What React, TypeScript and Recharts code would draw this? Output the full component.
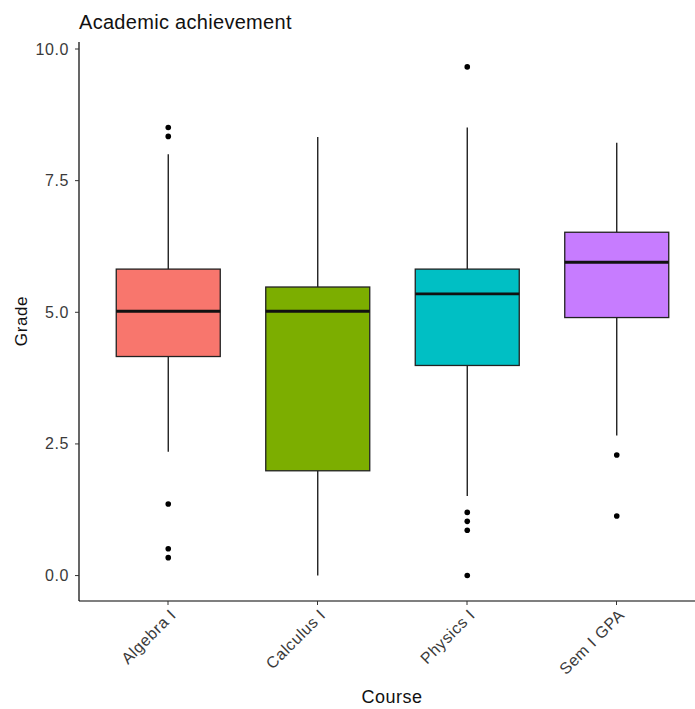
import { ComposedChart, Bar, XAxis, YAxis } from 'recharts';

// box plot summary per course
const courses = ['Algebra I', 'Calculus I', 'Physics I', 'Sem I GPA'];
const whiskerLow = [2.35, 0.0, 1.51, 2.66];
const lowerQuartile = [4.16, 1.99, 3.99, 4.9];
const medians = [5.02, 5.02, 5.35, 5.95];
const upperQuartile = [5.82, 5.48, 5.82, 6.52];
const whiskerHigh = [8.0, 8.33, 8.51, 8.22];
const outliers = [
  [8.51, 8.34, 1.36, 0.51, 0.34],
  [],
  [9.66, 1.2, 1.03, 0.86, 0.0],
  [2.29, 1.13],
];
const fills = ['#F8766D', '#7CAE00', '#00BFC4', '#C77CFF'];
const gradeTicks = [0, 2.5, 5, 7.5, 10];

const data = courses.map((course, i) => ({
  course,
  range: [whiskerLow[i], whiskerHigh[i]],
  lo: whiskerLow[i],
  q1: lowerQuartile[i],
  median: medians[i],
  q3: upperQuartile[i],
  hi: whiskerHigh[i],
  outliers: outliers[i],
  fill: fills[i],
}));

const FONT = '"Liberation Sans", Arial, sans-serif';

// the bar covers the whisker range; everything else is placed along the same scale
const BoxShape = (props: any) => {
  const { x, y, width, height, index } = props;
  const d = props.payload && props.payload.q1 !== undefined ? props.payload : data[index];
  const top = Math.min(y, y + height);
  const bottom = Math.max(y, y + height);
  const toY = (v: number) => top + ((d.hi - v) / (d.hi - d.lo)) * (bottom - top);
  const cx = x + width / 2;
  const yQ1 = toY(d.q1);
  const yQ3 = toY(d.q3);
  const yMed = toY(d.median);
  return (
    <g>
      <line x1={cx} x2={cx} y1={toY(d.hi)} y2={yQ3} stroke="#111" strokeWidth={1.3} />
      <line x1={cx} x2={cx} y1={yQ1} y2={toY(d.lo)} stroke="#111" strokeWidth={1.3} />
      <rect x={x} y={yQ3} width={width} height={yQ1 - yQ3} fill={d.fill} stroke="#222" strokeWidth={1.3} />
      <line x1={x} x2={x + width} y1={yMed} y2={yMed} stroke="#111" strokeWidth={2.8} />
      {d.outliers.map((v: number, k: number) => (
        <circle key={k} cx={cx} cy={toY(v)} r={2.8} fill="#000" />
      ))}
    </g>
  );
};

const CourseTick = (props: any) => {
  const { x, y, payload } = props;
  const ax = x + 9;
  const ay = y + 9;
  return (
    <text
      x={ax}
      y={ay}
      transform={`rotate(-45, ${ax}, ${ay})`}
      textAnchor="end"
      fill="#3A3A3A"
      fontSize={16}
      fontFamily={FONT}
      letterSpacing={0.6}
    >
      {payload.value}
    </text>
  );
};

const GradeTick = (props: any) => {
  const { x, y, payload } = props;
  return (
    <text
      x={x}
      y={y + 5.5}
      textAnchor="end"
      fill="#3A3A3A"
      fontSize={16}
      fontFamily={FONT}
      letterSpacing={0.6}
    >
      {Number(payload.value).toFixed(1)}
    </text>
  );
};

export default function App() {
  return (
    <div style={{ position: 'absolute', left: 0, top: 0, width: 695, height: 709, background: '#fff' }}>
      <ComposedChart
        width={695}
        height={709}
        data={data}
        margin={{ top: 42, right: 0, bottom: 48, left: 19 }}
      >
        <XAxis
          dataKey="course"
          type="category"
          height={60}
          padding={{ left: 14.25, right: 3.75 }}
          axisLine={{ stroke: '#000', strokeWidth: 1.2 }}
          tickLine={{ stroke: '#333' }}
          tickSize={4}
          tickMargin={2}
          tick={<CourseTick />}
          interval={0}
        />
        <YAxis
          type="number"
          width={60}
          domain={[-0.483, 10.133]}
          ticks={gradeTicks}
          allowDataOverflow
          axisLine={{ stroke: '#000', strokeWidth: 1.2 }}
          tickLine={{ stroke: '#333' }}
          tickSize={4}
          tickMargin={6}
          tick={<GradeTick />}
        />
        <Bar dataKey="range" barSize={104} shape={<BoxShape />} isAnimationActive={false} />
        <text x={79} y={29} fontSize={20} fontFamily={FONT} fill="#111" letterSpacing={0.3}>
          Academic achievement
        </text>
        <text
          x={27}
          y={321}
          transform="rotate(-90, 27, 321)"
          textAnchor="middle"
          fontSize={17}
          fontFamily={FONT}
          fill="#111"
          letterSpacing={0.6}
        >
          Grade
        </text>
        <text x={392} y={703} textAnchor="middle" fontSize={18} fontFamily={FONT} fill="#111" letterSpacing={0.5}>
          Course
        </text>
      </ComposedChart>
    </div>
  );
}
